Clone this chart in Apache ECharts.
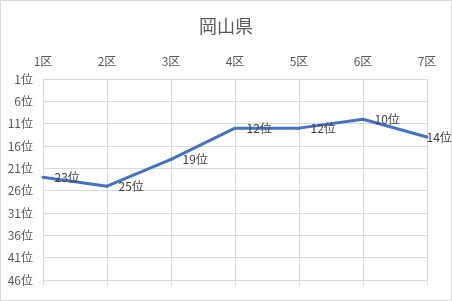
<!DOCTYPE html>
<html><head><meta charset="utf-8">
<script src="https://cdn.jsdelivr.net/npm/echarts@6/dist/echarts.min.js"></script>
<style>html,body{margin:0;padding:0;background:#fff}#c{width:452px;height:301px}</style>
</head><body><div id="c"></div>
<script>
const title = "岡山県";
const categories = ["1区","2区","3区","4区","5区","6区","7区"];
const ranks = [23, 25, 19, 12, 12, 10, 14];
const rankTicks = [1, 6, 11, 16, 21, 26, 31, 36, 41, 46];
const font = '"Noto Sans CJK JP", "Noto Sans", sans-serif';
const chart = echarts.init(document.getElementById('c'), null, {renderer: 'canvas'});
const seriesData = ranks.map((v, i) => i === ranks.length - 1 ? {value: v, label: {distance: -2}} : v);
chart.setOption({
  animation: false,
  backgroundColor: '#fff',
  title: {text: title, left: 'center', top: 12, textStyle: {fontFamily: font, fontSize: 18, fontWeight: 'normal', color: '#595959'}},
  grid: {left: 43, right: 25, top: 79, bottom: 21, containLabel: false},
  xAxis: [{
    type: 'category', data: categories, position: 'top', boundaryGap: false,
    axisLine: {show: false}, axisTick: {show: false},
    axisLabel: {margin: 12, fontFamily: font, fontSize: 12, color: '#595959'},
    splitLine: {show: true, lineStyle: {color: '#d9d9d9', width: 1}}
  }, {
    type: 'category', data: categories, position: 'bottom', boundaryGap: false,
    axisLine: {show: false}, axisLabel: {show: false},
    axisTick: {show: true, length: 5, alignWithLabel: true, lineStyle: {color: '#d9d9d9'}},
    splitLine: {show: false}
  }],
  yAxis: {
    type: 'value', inverse: true, min: 1, max: 46,
    axisLine: {show: false}, axisTick: {show: false, customValues: rankTicks},
    axisLabel: {customValues: rankTicks, margin: 10, fontFamily: font, fontSize: 12, color: '#595959', formatter: v => v + '位'},
    splitLine: {show: true, lineStyle: {color: '#d9d9d9', width: 1}}
  },
  graphic: [{type: 'rect', shape: {x: 0.5, y: 0.5, width: 451, height: 300}, style: {fill: 'none', stroke: '#d9d9d9', lineWidth: 1}, silent: true}],
  series: [{
    type: 'line', data: seriesData, xAxisIndex: 0, symbol: 'circle', symbolSize: 3, showSymbol: true,
    itemStyle: {color: '#4472C4'},
    lineStyle: {color: '#4472C4', width: 3},
    label: {show: true, position: 'right', distance: 10, fontFamily: font, fontSize: 12, color: '#404040', formatter: p => p.value + '位'}
  }]
});
</script></body></html>
